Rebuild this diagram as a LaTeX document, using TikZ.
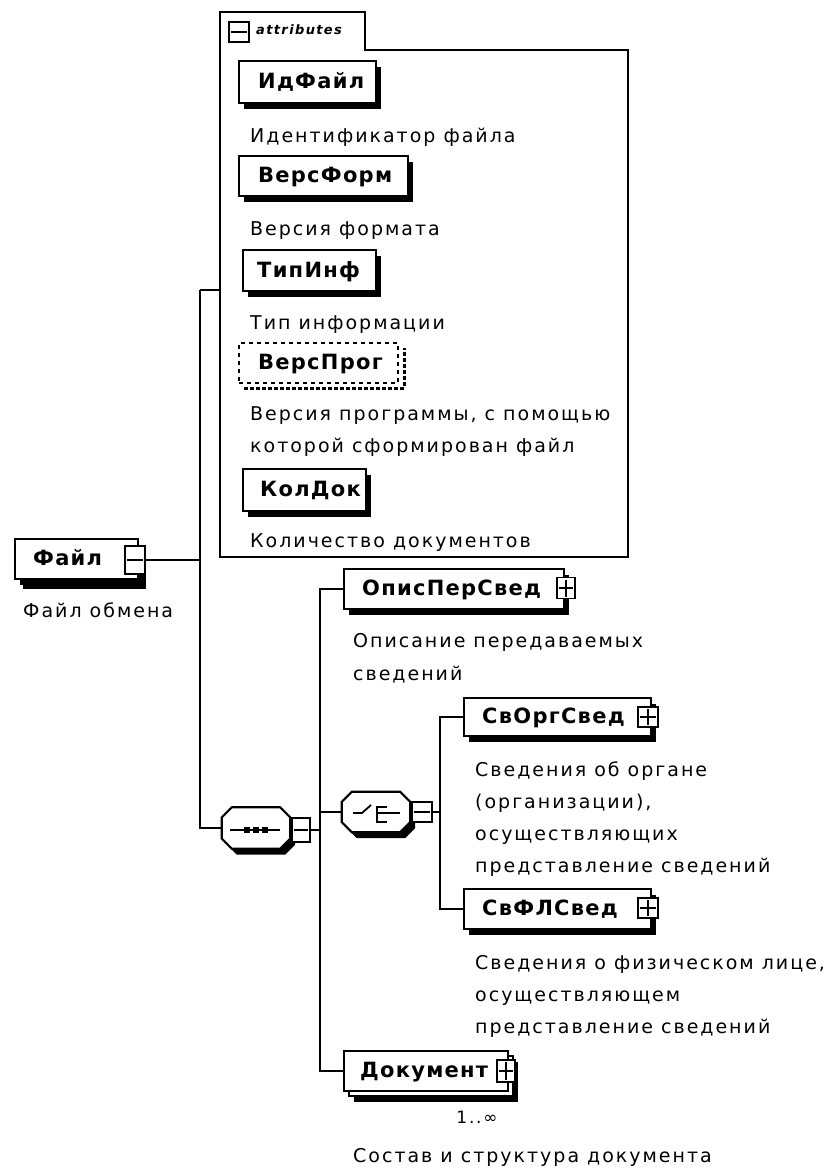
\documentclass[tikz,border=0pt]{standalone}
\usepackage{fontspec}
\setmainfont{DejaVu Sans}
\newfontfamily\descfont[LetterSpace=10.5]{DejaVu Sans}
\newfontfamily\boldlblfont[LetterSpace=6]{DejaVu Sans}
\newcommand\lblfont{\boldlblfont\fontsize{21}{24}\selectfont\bfseries}
\newcommand\dfont{\descfont\fontsize{19}{22}\selectfont}
\newcommand\octpath[2]{([xshift=#2pt]#1.north west) -- ([xshift=-#2pt]#1.north east) -- ([yshift=-#2pt]#1.north east) -- ([yshift=#2pt]#1.south east) -- ([xshift=-#2pt]#1.south east) -- ([xshift=#2pt]#1.south west) -- ([yshift=#2pt]#1.south west) -- ([yshift=-#2pt]#1.north west) -- cycle}
\usetikzlibrary{shadows,calc}
\begin{document}
\begin{tikzpicture}[x=1pt,y=-1pt,
  conn/.style={line width=2.2pt},
  frame/.style={line width=2.2pt},
  shad/.style={drop shadow={shadow xshift=5pt, shadow yshift=-6pt, opacity=1, fill=black}},
  elem/.style={draw, line width=2.2pt, fill=white, anchor=north west, inner sep=0pt, shad},
  plainelem/.style={draw, line width=2.2pt, fill=white, anchor=north west, inner sep=0pt},
  optelem/.style={draw, dash pattern=on 4pt off 4pt, line width=2pt, fill=white, anchor=north west, inner sep=0pt},
  lbl/.style={font=\lblfont, inner sep=0pt, anchor=base west},
  desc/.style={font=\dfont, inner sep=0pt, anchor=base west},
  pm/.style={draw, fill=white, line width=1.8pt, minimum width=18pt, minimum height=20pt, inner sep=0pt},
  minusbox/.style={pm, path picture={\draw[line width=1.8pt] ([xshift=2pt]path picture bounding box.west) -- ([xshift=-2pt]path picture bounding box.east);}},
  plusbox/.style={pm, path picture={\draw[line width=1.8pt] ([xshift=2pt]path picture bounding box.west) -- ([xshift=-2pt]path picture bounding box.east);
     \draw[line width=1.8pt] ([yshift=-2pt]path picture bounding box.north) -- ([yshift=2pt]path picture bounding box.south);}},
  compbox/.style={inner sep=0pt},
  octo/.style={draw, line width=2.2pt, fill=white, shad}
]
\useasboundingbox (0,0) rectangle (833,1170);

% ---------- attributes panel ----------
\node[inner sep=0pt, minimum width=408pt, minimum height=507pt, anchor=north west] (attrbox) at (220,50) {};
\draw[frame] (365,50) -- (628,50) -- (628,557) -- (220,557) -- (220,12) -- (365,12) -- cycle;
\node[minusbox, minimum width=20pt, minimum height=20pt] (tabm) at (239,32) {};
\node[font=\descfont\fontsize{13}{15}\selectfont\bfseries\itshape, inner sep=0pt, anchor=mid west] (tabt) at (256,32) {attributes};

\node[elem, minimum width=137pt, minimum height=42pt] (idfile) at (238,60) {};
\node[lbl] (idfileL) at (258,88.5) {ИдФайл};
\node[desc] (idfileD) at (250,142) {Идентификатор файла};

\node[elem, minimum width=169pt, minimum height=40pt] (versform) at (238,155) {};
\node[lbl] (versformL) at (258,182.5) {ВерсФорм};
\node[desc] (versformD) at (250,235) {Версия формата};

\node[elem, minimum width=133pt, minimum height=41pt] (tipinf) at (242,249) {};
\node[lbl] (tipinfL) at (257,277) {ТипИнф};
\node[desc] (tipinfD) at (250,329) {Тип информации};

\node[optelem, minimum width=159pt, minimum height=40pt] (versprog) at (238,342) {};
\draw[line width=3pt, dash pattern=on 4pt off 2pt] ([xshift=6pt,yshift=-4pt]versprog.south west) -- ([xshift=5pt,yshift=-4pt]versprog.south east) -- ([xshift=5pt,yshift=-6pt]versprog.north east);
\node[lbl] (versprogL) at (258,369.5) {ВерсПрог};
\node[desc] (versprogD1) at (250,420) {Версия программы, с помощью};
\node[desc] (versprogD2) at (250,452) {которой сформирован файл};

\node[elem, minimum width=123pt, minimum height=42pt] (koldok) at (242,468) {};
\node[lbl] (koldokL) at (260,496.5) {КолДок};
\node[desc] (koldokD) at (250,547) {Количество документов};

% ---------- root ----------
\node[elem, minimum width=123pt, minimum height=40pt, drop shadow={shadow xshift=8pt, shadow yshift=-10pt, opacity=1, fill=black}] (file) at (14,538) {};
\node[lbl] (fileL) at (33,565.5) {Файл};
\node[minusbox, minimum width=20pt, minimum height=28pt] (fm) at (135,560) {};
\node[desc] (fileD) at (23,617) {Файл обмена};

% ---------- sequence ----------
\node[compbox, minimum width=68pt, minimum height=41pt] (seq) at (256,828) {};
\filldraw[octo] \octpath{seq}{10};
\draw[line width=1.8pt] ($(seq.center)+(-26,2)$) -- ($(seq.center)+(24,2)$);
\foreach \dx in {-9,0,9} \fill ($(seq.center)+(\dx-3,-1)$) rectangle ++(6,6);
\node[minusbox, minimum width=18pt, minimum height=24pt] (sm) at (301,830) {};

% ---------- children of sequence ----------
\node[elem, minimum width=220pt, minimum height=40pt] (opis) at (343,568) {};
\node[lbl] (opisL) at (362,595.5) {ОписПерСвед};
\node[plusbox, minimum width=18pt, minimum height=21pt] (opisP) at (566,588) {};
\node[desc] (opisD1) at (353,647) {Описание передаваемых};
\node[desc] (opisD2) at (353,680) {сведений};

% choice
\node[compbox, minimum width=68pt, minimum height=40pt] (ch) at (376,812) {};
\filldraw[octo] \octpath{ch}{10};
\draw[line width=1.8pt] ($(ch.center)+(-23,1)$) -- ($(ch.center)+(-14,1)$) -- ($(ch.center)+(-5,-7)$);
\draw[line width=1.8pt] ($(ch.center)+(11,-5)$) -- ($(ch.center)+(1,-5)$) -- ($(ch.center)+(1,10)$) -- ($(ch.center)+(11,10)$);
\draw[line width=1.8pt] ($(ch.center)+(1,1)$) -- ($(ch.center)+(24,1)$);
\node[minusbox, minimum width=20pt, minimum height=20pt] (cm) at (422,812) {};

\node[elem, minimum width=187pt, minimum height=38pt] (svorg) at (463,697) {};
\node[lbl] (svorgL) at (482,723.5) {СвОргСвед};
\node[plusbox, minimum width=20pt, minimum height=20pt] (svorgP) at (648,717) {};
\node[desc] (svorgD1) at (475,776) {Сведения об органе};
\node[desc] (svorgD2) at (475,808) {(организации),};
\node[desc] (svorgD3) at (475,840) {осуществляющих};
\node[desc] (svorgD4) at (475,872) {представление сведений};

\node[elem, minimum width=187pt, minimum height=40pt] (svfl) at (463,888) {};
\node[lbl] (svflL) at (482,915.5) {СвФЛСвед};
\node[plusbox, minimum width=20pt, minimum height=20pt] (svflP) at (648,908) {};
\node[desc] (svflD1) at (475,969) {Сведения о физическом лице,};
\node[desc] (svflD2) at (475,1001) {осуществляющем};
\node[desc] (svflD3) at (475,1033) {представление сведений};

% document (1..unbounded)
\node[elem, minimum width=164pt, minimum height=40pt] (docback) at (348,1055) {};
\node[plainelem, minimum width=164pt, minimum height=40pt] (doc) at (343,1050) {};
\node[lbl] (docL) at (360,1077.5) {Документ};
\node[plusbox, minimum width=18pt, minimum height=22pt] (docP) at (506,1071) {};
\node[font=\descfont\fontsize{17}{19}\selectfont, inner sep=0pt] (dococc) at (477,1117) {1..∞};
\node[desc] (docD) at (353,1162) {Состав и структура документа};

% ---------- connectors ----------
\coordinate (jA) at (200,290);
\coordinate (jS) at (200,828);
\coordinate (k) at (320,0);
\coordinate (m) at (440,0);
\draw[conn] (fm.east) -- (fm.east -| jA);
\draw[conn] (jA) -- (jA -| attrbox.west);
\draw[conn] (jA) -- (jS) -- (seq.west);
\draw[conn] (sm.east) -- (sm.east -| k);
\draw[conn] (opis.west) -- (opis.west -| k) -- (doc.west -| k) -- (doc.west);
\draw[conn] (ch.west -| k) -- (ch.west);
\draw[conn] (cm.east) -- (cm.east -| m);
\draw[conn] (svorg.west) -- (svorg.west -| m) -- (svfl.west -| m) -- (svfl.west);
\end{tikzpicture}
\end{document}
